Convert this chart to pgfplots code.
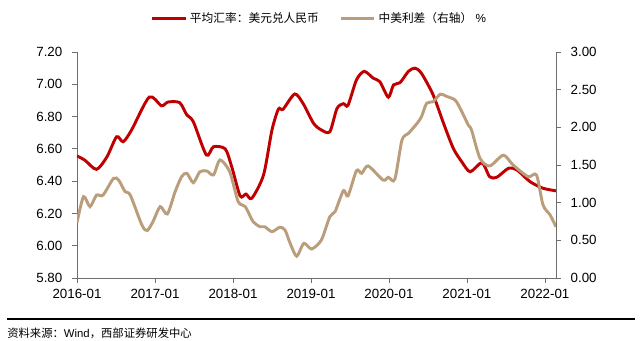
\documentclass[border=0pt]{standalone}
\usepackage{pgfplots}
\pgfplotsset{compat=1.18}
\usepackage{fontspec}
\setmainfont{Liberation Sans}
\newfontfamily\cjk{Noto Sans CJK SC}
\definecolor{redline}{RGB}{192,0,0}
\definecolor{tanline}{RGB}{186,157,122}
\definecolor{axgray}{RGB}{110,110,110}
\pgfplotstableread{
m v
0 6.556
1.2 6.53
3 6.473
4.6 6.55
6.1 6.675
7.1 6.644
8.4 6.717
11.1 6.92
13 6.867
14 6.89
15.8 6.886
16.9 6.81
17.9 6.768
19.9 6.562
21 6.613
22.8 6.60
23.8 6.49
25.1 6.308
26 6.32
26.9 6.294
28.7 6.438
30 6.717
31 6.847
31.7 6.845
33.5 6.94
34.8 6.88
36.4 6.758
37.6 6.717
38.9 6.706
40 6.85
41 6.88
41.7 6.87
43 7.027
44.2 7.08
45.6 7.037
46.6 7.016
47.9 6.92
48.7 6.996
49.7 7.01
51 7.08
52 7.10
53 7.068
54.8 6.934
56.4 6.758
57.9 6.603
59.2 6.52
60.5 6.458
62.3 6.514
63.5 6.427
64.6 6.424
66.4 6.48
67.7 6.469
69.7 6.397
71.7 6.356
73.7 6.34
}\fxdata
\pgfplotstableread{
m v
0 0.734
1 1.08
2 0.947
3 1.10
4 1.10
5.6 1.32
6.4 1.30
7.4 1.146
8.2 1.10
10 0.70
10.8 0.63
11.7 0.75
12.8 0.947
13.9 0.85
15.1 1.146
16.1 1.345
16.9 1.39
17.9 1.266
18.9 1.41
20 1.42
21 1.367
22 1.567
23.5 1.41
24.8 1.013
25.9 0.947
27.1 0.747
28.2 0.68
28.9 0.68
30 0.615
31.2 0.673
32 0.637
32.8 0.46
33.8 0.29
34.9 0.46
36.1 0.385
37.6 0.504
38.9 0.814
39.7 0.88
41 1.16
41.7 1.09
43 1.425
43.8 1.39
44.8 1.487
47.1 1.30
47.9 1.337
48.9 1.31
50 1.83
51 1.92
52.3 2.05
53 2.14
53.8 2.32
54.8 2.34
55.9 2.44
56.9 2.41
58.2 2.36
59.2 2.21
60.2 2.03
60.7 1.965
62 1.59
63.5 1.487
65.6 1.63
67.1 1.50
69.4 1.345
70.7 1.367
71.7 0.97
72.8 0.836
73.7 0.68
}\spreaddata
\begin{document}
\begin{tikzpicture}[x=0.75pt,y=0.75pt]
\useasboundingbox (0,0) rectangle (640,341);
\pgfplotsset{
  common/.style={
    scale only axis, width=359.25pt, height=169.5pt,
    at={(57.75pt,47.25pt)}, anchor=south west,
    xmin=0, xmax=73.7,
    tick align=outside, major tick length=3.5pt,
    axis line style={axgray, line width=0.6pt},
    every tick/.style={axgray, line width=0.6pt},
    tick label style={font=\fontsize{10}{12}\selectfont},
    /pgf/number format/assume math mode=true,
    yticklabel style={/pgf/number format/fixed, /pgf/number format/fixed zerofill, /pgf/number format/precision=2},
  }
}
\begin{axis}[common,
  axis x line*=bottom, axis y line*=left,
  ymin=5.8, ymax=7.2, ytick={5.8,6.0,...,7.21},
  xtick={0,12,24,36,48,60,72},
  xticklabels={2016-01,2017-01,2018-01,2019-01,2020-01,2021-01,2022-01},
  xticklabel style={yshift=-1pt},
  yticklabel style={xshift=-4pt},
]
\addplot[redline, line width=2.2pt, smooth, tension=0.45] table[x=m,y=v] {\fxdata};
\end{axis}
\begin{axis}[common,
  axis x line=none, axis y line*=right,
  ymin=0, ymax=3, ytick={0,0.5,...,3.01},
  yticklabel style={xshift=4pt},
  legend style={at={(0.507,1.15)}, anchor=center, draw=none, fill=none,
    font=\cjk\fontsize{8.8}{10}\selectfont, legend columns=2,
    /tikz/every even column/.append style={column sep=13.5pt},
    legend cell align=left, inner sep=0pt},
  legend image code/.code={\draw[#1] (0pt,0pt) -- (25pt,0pt);},
]
\addlegendimage{redline, line width=2.2pt}
\addlegendentry{平均汇率：美元兑人民币}
\addplot[tanline, line width=2.2pt, smooth, tension=0.45] table[x=m,y=v] {\spreaddata};
\addlegendentry{中美利差（右轴）{\fontspec{Liberation Sans}\ \%}}
\end{axis}
\draw[line width=1.4pt] (7,22) -- (635,22);
\node[anchor=west, inner sep=0pt, font=\fontsize{8.5}{10}\selectfont] at (7,8) {\cjk 资料来源：{\fontspec{Liberation Sans}Wind}，西部证券研发中心};
\end{tikzpicture}
\end{document}
